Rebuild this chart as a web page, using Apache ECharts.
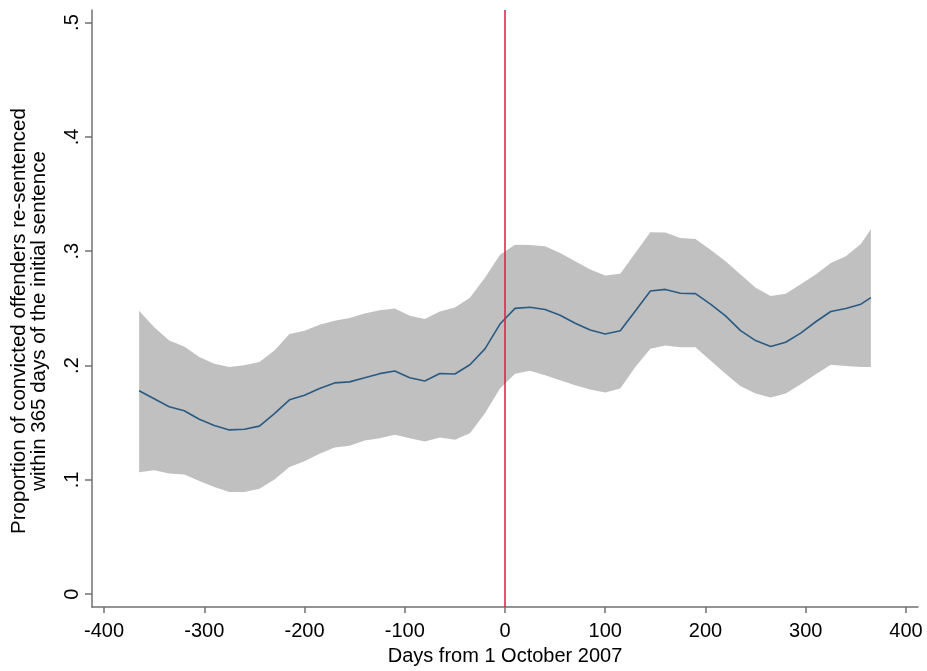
<!DOCTYPE html>
<html>
<head>
<meta charset="utf-8">
<script src="https://cdn.jsdelivr.net/npm/echarts@6/dist/echarts.min.js"></script>
<style>
html,body{margin:0;padding:0;background:#fff}
#main{width:927px;height:671px}
</style>
</head>
<body>
<div id="main"></div>
<script>
// days from 1 October 2007
var days = [-365,-350,-335,-320,-305,-290,-275,-260,-245,-230,-215,-200,-185,-170,-155,-140,-125,-110,-95,-80,-65,-50,-35,-20,-5,
  10,25,40,55,70,85,100,115,130,145,160,175,190,205,220,235,250,265,280,295,310,325,340,355,365];
// smoothed proportion re-sentenced
var estimate = [0.178,0.171,0.164,0.1605,0.153,0.1475,0.1437,0.1443,0.147,0.158,0.170,0.174,0.180,0.1848,0.1857,0.1894,0.1929,0.1952,0.1894,0.1865,0.193,0.1926,0.2007,0.2146,0.2363,
  0.250,0.251,0.249,0.244,0.237,0.231,0.2276,0.2305,0.2478,0.2652,0.2666,0.2632,0.2629,0.2537,0.2435,0.2305,0.2218,0.2166,0.2204,0.2284,0.2383,0.2473,0.2499,0.2537,0.2594];
// confidence band
var upper = [0.248,0.2334,0.2218,0.2166,0.2074,0.2016,0.1987,0.2002,0.203,0.2132,0.2276,0.2305,0.2357,0.2392,0.2415,0.2455,0.2484,0.2499,0.2435,0.2406,0.2473,0.2507,0.2594,0.2768,0.297,
  0.3057,0.3055,0.3043,0.2985,0.2912,0.284,0.2788,0.2802,0.2985,0.3167,0.3164,0.3115,0.3106,0.3013,0.2912,0.2796,0.2681,0.2609,0.2629,0.271,0.2796,0.2898,0.2956,0.3063,0.3193];
var lower = [0.1067,0.1085,0.1056,0.1047,0.0989,0.0937,0.0894,0.0894,0.0922,0.1004,0.1113,0.1163,0.1229,0.1284,0.1299,0.1345,0.1365,0.1394,0.1365,0.1336,0.1371,0.1351,0.1408,0.1582,0.1799,
  0.1929,0.1955,0.1915,0.1871,0.1828,0.179,0.1764,0.1799,0.1987,0.2146,0.2175,0.216,0.216,0.2045,0.1929,0.1819,0.1755,0.172,0.1755,0.1837,0.1923,0.2007,0.1996,0.1987,0.1987];

var xTicks = [-400,-300,-200,-100,0,100,200,300,400];
var yTicks = [0,0.1,0.2,0.3,0.4,0.5];
var yTickLabels = ['0','.1','.2','.3','.4','.5'];

var font = 'Liberation Sans, Arial, sans-serif';
var axisGray = '#707070';

var lineData = days.map(function (d, i) { return [d, estimate[i]]; });

// band polygon: upper edge left to right, lower edge back
function renderBand(params, api) {
  var pts = [];
  for (var i = 0; i < days.length; i++) pts.push(api.coord([days[i], upper[i]]));
  for (var j = days.length - 1; j >= 0; j--) pts.push(api.coord([days[j], lower[j]]));
  return {
    type: 'polygon',
    shape: { points: pts },
    style: { fill: '#c0c0c0' }
  };
}

var myChart = echarts.init(document.getElementById('main'));
var option = {
  animation: false,
  backgroundColor: '#fff',
  grid: { left: 92, right: 9, top: 10, bottom: 59 },
  xAxis: {
    type: 'value',
    min: -412,
    max: 412,
    name: 'Days from 1 October 2007',
    nameLocation: 'middle',
    nameGap: 32,
    nameTextStyle: { color: '#000', fontSize: 20, fontFamily: font },
    axisLine: { onZero: false, lineStyle: { color: axisGray, width: 1.5 } },
    axisTick: { customValues: xTicks, length: 6, lineStyle: { color: axisGray, width: 1.5 } },
    axisLabel: { customValues: xTicks, color: '#000', fontSize: 20, fontFamily: font, margin: 14 },
    splitLine: { show: false }
  },
  yAxis: {
    type: 'value',
    min: -0.0113,
    max: 0.511,
    axisLine: { show: true, onZero: false, lineStyle: { color: axisGray, width: 1.5 } },
    axisTick: { show: true, customValues: yTicks, length: 7, lineStyle: { color: axisGray, width: 1.5 } },
    axisLabel: {
      customValues: yTicks,
      rotate: 90,
      color: '#000',
      fontSize: 20,
      fontFamily: font,
      margin: 10,
      formatter: function (v) {
        var i = yTicks.indexOf(Math.round(v * 10) / 10);
        return i >= 0 ? yTickLabels[i] : '';
      }
    },
    splitLine: { show: false }
  },
  graphic: [{
    type: 'text',
    x: 29,
    y: 321,
    rotation: Math.PI / 2,
    style: {
      text: 'Proportion of convicted offenders re-sentenced\nwithin 365 days of the initial sentence',
      fill: '#000',
      font: '20.5px ' + font,
      align: 'center',
      verticalAlign: 'middle',
      lineHeight: 20
    }
  }],
  series: [
    {
      type: 'line',
      data: [],
      z: 1,
      markLine: {
        silent: true,
        symbol: 'none',
        label: { show: false },
        lineStyle: { color: '#d81e46', width: 1.5, type: 'solid' },
        data: [{ xAxis: 0 }]
      }
    },
    {
      type: 'custom',
      renderItem: renderBand,
      data: [[0, 0]],
      silent: true,
      z: 2
    },
    {
      type: 'line',
      data: lineData,
      symbol: 'none',
      lineStyle: { color: '#2a5a82', width: 1.6 },
      z: 3
    }
  ]
};
myChart.setOption(option);
</script>
</body>
</html>
